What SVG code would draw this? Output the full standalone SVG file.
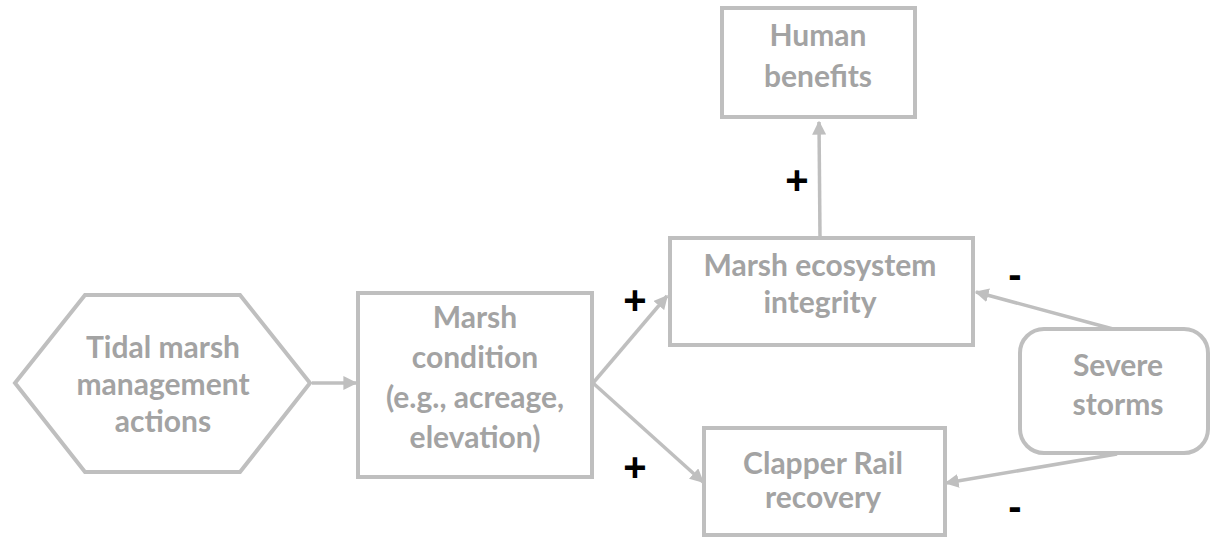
<svg xmlns="http://www.w3.org/2000/svg" width="1210" height="537" viewBox="0 0 1210 537">
<style>
.box{fill:#fff;stroke:#BFBFBF;stroke-width:4}
.t{font-family:Lato,"Open Sans",sans-serif;font-weight:bold;font-size:30px;fill:#A3A3A3;text-anchor:middle}
.s{font-family:"Liberation Sans",Arial,sans-serif;font-weight:bold;font-size:40px;fill:#000;text-anchor:middle}
.c{fill:none;stroke:#BFBFBF;stroke-width:3.5}
</style>
<defs>
<marker id="ah" viewBox="0 0 10 10" refX="9" refY="5" markerWidth="4" markerHeight="4" orient="auto" markerUnits="strokeWidth">
<path d="M0,0 L10,5 L0,10 z" fill="#BFBFBF"/>
</marker>
</defs>
<rect width="1210" height="537" fill="#fff"/>
<g id="connectors">
<line class="c" x1="312" y1="383" x2="356" y2="383" marker-end="url(#ah)"/>
<line class="c" x1="593" y1="383" x2="667" y2="296" marker-end="url(#ah)"/>
<line class="c" x1="593" y1="383" x2="703" y2="482" marker-end="url(#ah)"/>
<line class="c" x1="820" y1="237" x2="819" y2="122" marker-end="url(#ah)"/>
<line class="c" x1="1113" y1="329" x2="976" y2="292" marker-end="url(#ah)"/>
<line class="c" x1="1117" y1="454" x2="946" y2="483" marker-end="url(#ah)"/>
<text class="s" x="635" y="314">+</text>
<text class="s" x="635" y="481">+</text>
<text class="s" x="797" y="194">+</text>
<text class="s" x="1015" y="288">-</text>
<text class="s" x="1015" y="520">-</text>
</g>
<g id="tidal">
<polygon class="box" points="85,295 240,295 310,383 240,472 85,472 15,383"/>
<text class="t" x="163" y="358">Tidal marsh</text>
<text class="t" x="163" y="395">management</text>
<text class="t" x="163" y="432">actions</text>
</g>
<g id="condition">
<rect class="box" x="358" y="293" width="234" height="184"/>
<text class="t" x="475" y="328">Marsh</text>
<text class="t" x="475" y="368">condition</text>
<text class="t" x="475" y="408">(e.g., acreage,</text>
<text class="t" x="475" y="448">elevation)</text>
</g>
<g id="human">
<rect class="box" x="722" y="8" width="193" height="109"/>
<text class="t" x="818" y="46">Human</text>
<text class="t" x="818" y="87">benefits</text>
</g>
<g id="ecosystem">
<rect class="box" x="670" y="238" width="303" height="107"/>
<text class="t" x="820" y="276">Marsh ecosystem</text>
<text class="t" x="820" y="313">integrity</text>
</g>
<g id="clapper">
<rect class="box" x="704" y="428" width="241" height="107"/>
<text class="t" x="823" y="474">Clapper Rail</text>
<text class="t" x="823" y="508">recovery</text>
</g>
<g id="storms">
<rect class="box" x="1020" y="329" width="188" height="124" rx="24" ry="24"/>
<text class="t" x="1118" y="376">Severe</text>
<text class="t" x="1118" y="415">storms</text>
</g>
</svg>
